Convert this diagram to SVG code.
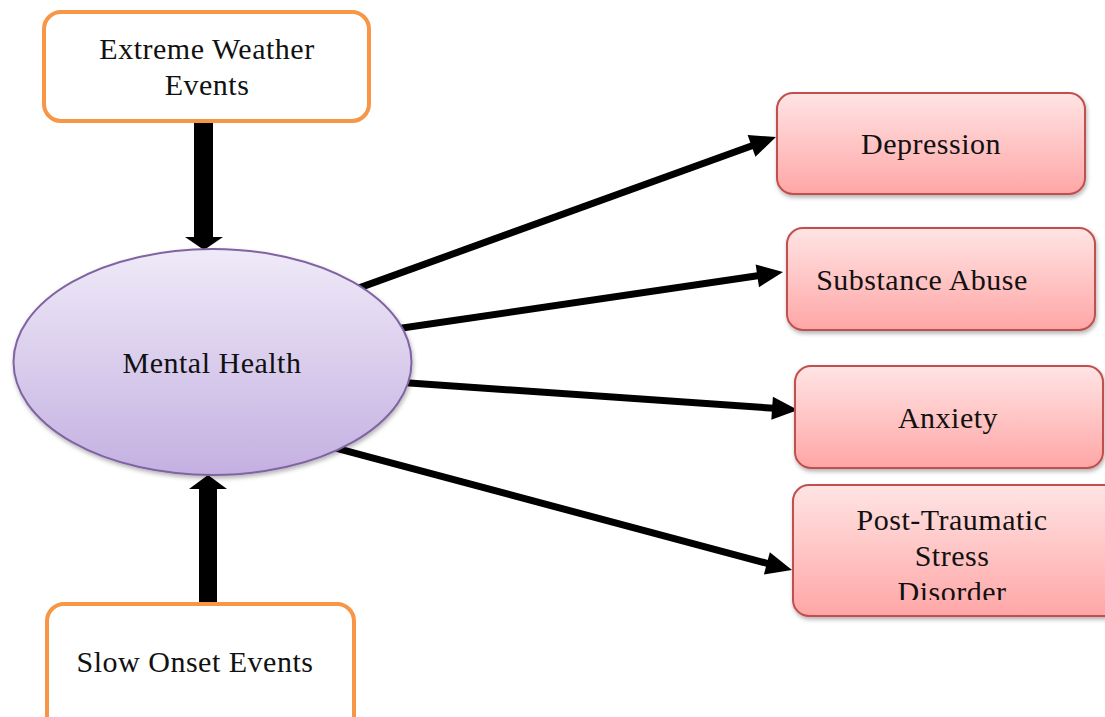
<svg xmlns="http://www.w3.org/2000/svg" width="1105" height="717" viewBox="0 0 1105 717">
<style>
.lbl{font-family:"Liberation Serif","DejaVu Serif",serif;font-size:30px;letter-spacing:0.5px;fill:#111;text-anchor:middle}
.src{fill:#fff;stroke:#F79646;stroke-width:4}
.out{fill:url(#gPink);stroke:#C0504D;stroke-width:2;filter:url(#sh)}
.conn{stroke:#000;stroke-width:7;fill:none;marker-end:url(#ah)}
</style>
<defs>
<linearGradient id="gPink" x1="0" y1="0" x2="0" y2="1">
<stop offset="0" stop-color="#FFE4E4"/>
<stop offset="1" stop-color="#FFA6A6"/>
</linearGradient>
<linearGradient id="gPurple" x1="0" y1="0" x2="0" y2="1">
<stop offset="0" stop-color="#EFEAF8"/>
<stop offset="1" stop-color="#C4B0E1"/>
</linearGradient>
<filter id="sh" x="-10%" y="-10%" width="120%" height="130%">
<feDropShadow dx="1" dy="2.5" stdDeviation="2" flood-color="#000" flood-opacity="0.3"/>
</filter>
<marker id="ah" markerUnits="userSpaceOnUse" markerWidth="30" markerHeight="26" viewBox="0 -13 28 26" refX="2" refY="0" orient="auto">
<path d="M0,-11.5 L26,0 L0,11.5 Z" fill="#000"/>
</marker>
<clipPath id="ptsdClip"><rect x="793" y="485" width="320" height="115"/></clipPath>
</defs>

<g id="connectors">
<rect x="194" y="120" width="19" height="118" fill="#000"/>
<polygon points="185,237 223,237 204,250" fill="#000"/>
<rect x="199" y="487" width="18" height="118" fill="#000"/>
<polygon points="189,489 227,489 208,475" fill="#000"/>
<line class="conn" x1="324" y1="300.6" x2="753.4" y2="145.2"/>
<line class="conn" x1="363" y1="333.8" x2="759.3" y2="275.5"/>
<line class="conn" x1="370" y1="380.2" x2="774.1" y2="408.3"/>
<line class="conn" x1="304" y1="439.7" x2="768.8" y2="563.8"/>
</g>

<g id="extreme-weather">
<rect class="src" x="44" y="12" width="325" height="109" rx="17"/>
<text class="lbl" x="207" y="59">Extreme Weather</text>
<text class="lbl" x="207" y="95">Events</text>
</g>

<g id="slow-onset">
<rect class="src" x="47" y="604" width="307" height="140" rx="17"/>
<text class="lbl" x="195" y="672">Slow Onset Events</text>
</g>

<g id="mental-health">
<ellipse cx="212.5" cy="362" rx="199" ry="113" fill="url(#gPurple)" stroke="#8064A2" stroke-width="2" filter="url(#sh)"/>
<text class="lbl" x="212" y="373">Mental Health</text>
</g>

<g id="depression">
<rect class="out" x="777" y="93" width="308" height="101" rx="16"/>
<text class="lbl" x="931" y="154">Depression</text>
</g>

<g id="substance-abuse">
<rect class="out" x="787" y="228" width="308" height="102" rx="16"/>
<text class="lbl" x="922" y="290">Substance Abuse</text>
</g>

<g id="anxiety">
<rect class="out" x="795" y="366" width="308" height="102" rx="16"/>
<text class="lbl" x="948" y="428">Anxiety</text>
</g>

<g id="ptsd">
<rect class="out" x="793" y="485" width="330" height="131" rx="16"/>
<g clip-path="url(#ptsdClip)">
<text class="lbl" x="952" y="530">Post-Traumatic</text>
<text class="lbl" x="952" y="566">Stress</text>
<text class="lbl" x="952" y="602">Disorder</text>
</g>
</g>
</svg>
